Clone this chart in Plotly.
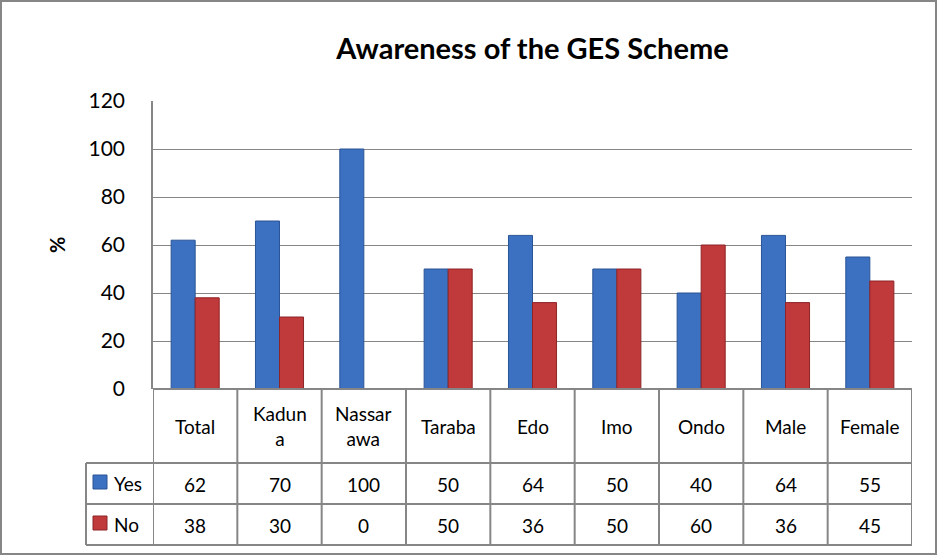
import plotly.graph_objects as go

categories = ["Total", "Kaduna", "Nassarawa", "Taraba", "Edo", "Imo", "Ondo", "Male", "Female"]
header_labels = ["Total", "Kadun<br>a", "Nassar<br>awa", "Taraba", "Edo", "Imo", "Ondo", "Male", "Female"]
yes_values = [62, 70, 100, 50, 64, 50, 40, 64, 55]
no_values = [38, 30, 0, 50, 36, 50, 60, 36, 45]
y_ticks = [0, 20, 40, 60, 80, 100, 120]

W, H = 938, 556
L, R, T, B = 153, 26, 101, 167
PW, PH = W - L - R, H - T - B
FONT = "Lato"
GRID = "#868686"
BLUE = "#3C70C0"
RED = "#C0393B"
TXT = 19


def px(x):
    return (x - L) / PW


def py(y):
    return (H - B - y) / PH


xs = list(range(len(categories)))
fig = go.Figure()
fig.add_trace(go.Bar(x=xs, y=yes_values, name="Yes",
                     marker=dict(color=BLUE, line=dict(color="#2A5596", width=[0 if v == 0 else 1 for v in yes_values]))))
fig.add_trace(go.Bar(x=xs, y=no_values, name="No",
                     marker=dict(color=RED, line=dict(color="#8E2426", width=[0 if v == 0 else 1 for v in no_values]))))

shapes = []
annotations = []

# outer border
shapes.append(dict(type="rect", xref="paper", yref="paper", x0=px(1), x1=px(W - 2), y0=py(H - 2), y1=py(1),
                   line=dict(color=GRID, width=2), fillcolor="rgba(0,0,0,0)", layer="below"))

# top line of table (bottom of plot)
shapes.append(dict(type="line", xref="paper", yref="paper", x0=0, x1=1, y0=0, y1=0,
                   line=dict(color=GRID, width=2)))
# horizontal table lines
for yy in [463, 504, 545]:
    shapes.append(dict(type="line", xref="paper", yref="paper", x0=px(86), x1=1, y0=py(yy), y1=py(yy),
                       line=dict(color=GRID, width=2)))
# legend column left line
shapes.append(dict(type="line", xref="paper", yref="paper", x0=px(86), x1=px(86), y0=py(463), y1=py(545),
                   line=dict(color=GRID, width=2)))
# vertical category separators
for i in range(len(categories) + 1):
    shapes.append(dict(type="line", xref="x", yref="paper", x0=i - 0.5, x1=i - 0.5, y0=py(389), y1=py(545),
                       line=dict(color=GRID, width=2)))

tfont = dict(family=FONT, size=TXT, color="black")
# header labels and values
for i, lab in enumerate(header_labels):
    annotations.append(dict(x=i, y=py(426), xref="x", yref="paper", text=lab, showarrow=False,
                            xanchor="center", yanchor="middle", font=tfont))
    annotations.append(dict(x=i, y=py(484), xref="x", yref="paper", text=str(yes_values[i]), showarrow=False,
                            xanchor="center", yanchor="middle", font=tfont))
    annotations.append(dict(x=i, y=py(525), xref="x", yref="paper", text=str(no_values[i]), showarrow=False,
                            xanchor="center", yanchor="middle", font=tfont))

# legend keys
for name, color, edge, yc in [("Yes", BLUE, "#2A5596", 482), ("No", RED, "#8E2426", 523)]:
    shapes.append(dict(type="rect", xref="paper", yref="paper", x0=px(93), x1=px(107), y0=py(yc + 7), y1=py(yc - 7),
                       fillcolor=color, line=dict(color=edge, width=1)))
    annotations.append(dict(x=px(112), y=py(yc + 1), xref="paper", yref="paper", text=name, showarrow=False,
                            xanchor="left", yanchor="middle", font=tfont))

# y axis title
annotations.append(dict(x=px(57), y=py(245), xref="paper", yref="paper", text="<b>%</b>", showarrow=False,
                        xanchor="center", yanchor="middle",
                        textangle=-90, font=dict(family=FONT, size=20, color="black")))

fig.update_layout(
    width=W, height=H,
    margin=dict(l=L, r=R, t=T, b=B, autoexpand=False),
    paper_bgcolor="white", plot_bgcolor="white",
    title=dict(text="<b>Awareness of the GES Scheme</b>", x=0.5, xref="paper", xanchor="center",
               y=1 - 49 / H, yanchor="middle", font=dict(family=FONT, size=29, color="black")),
    barmode="group", bargap=0.43, bargroupgap=0,
    showlegend=False,
    shapes=shapes, annotations=annotations,
    xaxis=dict(range=[-0.5, len(categories) - 0.5], showticklabels=False, showgrid=False,
               zeroline=False, showline=False, ticks=""),
    yaxis=dict(range=[0, 120], tickvals=y_ticks, showgrid=True, gridcolor=GRID, gridwidth=1,
               showline=True, linecolor=GRID, linewidth=1.5, ticks="",
               ticklabelstandoff=22,
               zeroline=False, tickfont=dict(family=FONT, size=21, color="black")),
)

fig.write_html("out.html", config={"displayModeBar": False},
               post_script="document.body.style.margin='0';")
